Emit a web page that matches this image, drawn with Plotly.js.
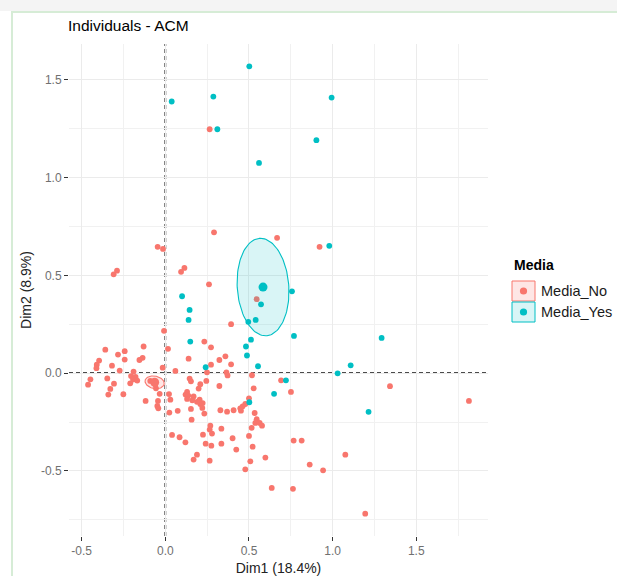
<!DOCTYPE html>
<html><head><meta charset="utf-8">
<script src="https://cdn.plot.ly/plotly-3.0.1.min.js"></script>
<style>
html,body{margin:0;padding:0;background:#fff;overflow:hidden;}
#topband{position:absolute;left:0;top:0;width:617px;height:11px;background:#f4f4f4;}
#frame{position:absolute;left:11px;top:11px;width:606px;height:565px;border-left:2px solid #d6ecd6;border-top:2px solid #d6ecd6;background:#fff;}
#chart{position:absolute;left:0;top:0;width:617px;height:576px;}
</style></head><body>
<div id="topband"></div>
<div id="frame"></div>
<div id="chart"></div>
<script>
// ---- data ----
const groupNames = ['Media_No', 'Media_Yes'];
const legendTitle = 'Media';

const mediaNoX = [0.265,0.291,0.668,-0.046,-0.014,0.922,-0.289,-0.309,0.114,0.094,0.261,0.546,0.393,-0.008,0.233,0.273,-0.130,-0.359,0.016,
 -0.283,-0.243,-0.243,-0.136,-0.155,-0.396,-0.410,-0.412,-0.319,-0.273,-0.190,-0.205,-0.178,-0.193,-0.168,-0.210,-0.448,-0.462,-0.347,-0.307,
 -0.329,-0.341,-0.251,-0.016,-0.056,-0.034,-0.118,-0.044,-0.048,-0.042,-0.090,-0.060,0.022,0.030,0.024,0.074,0.139,0.359,0.323,0.393,0.273,
 0.060,0.249,0.365,0.372,0.145,0.153,0.209,0.199,0.245,0.323,0.130,0.121,0.137,0.169,0.130,0.161,0.189,0.209,0.223,0.221,0.205,0.153,0.157,
 0.233,0.329,0.369,0.408,0.269,0.265,0.279,0.335,0.040,0.085,0.120,0.225,0.241,0.275,0.335,0.402,0.189,0.169,0.265,0.518,0.692,0.751,0.528,
 0.500,0.478,0.462,0.448,0.452,0.534,0.546,0.538,0.564,0.578,0.516,0.500,0.522,0.424,0.767,0.815,0.598,0.508,0.478,0.863,1.343,1.815,1.076,
 0.943,0.636,0.763,1.195];
const mediaNoY = [1.247,0.720,0.692,0.646,0.635,0.646,0.524,0.505,0.538,0.518,0.454,0.378,0.250,0.216,0.161,0.132,0.136,0.120,0.124,
 0.095,0.112,0.069,0.078,0.067,0.064,0.043,0.025,0.038,0.013,0.008,-0.015,-0.020,-0.033,-0.038,-0.052,-0.032,-0.059,-0.027,-0.054,
 -0.081,-0.110,-0.108,0.028,-0.078,-0.106,-0.142,-0.142,-0.168,-0.180,-0.040,-0.058,-0.107,-0.136,-0.202,-0.193,0.074,0.086,0.067,0.045,0.043,
 0.011,0.004,0.004,-0.012,-0.028,-0.042,-0.057,-0.079,-0.040,-0.066,-0.096,-0.110,-0.115,-0.119,-0.132,-0.139,-0.147,-0.158,-0.153,-0.178,-0.136,-0.183,-0.238,
 -0.207,-0.190,-0.197,-0.190,-0.269,-0.289,-0.309,-0.284,-0.316,-0.328,-0.354,-0.315,-0.361,-0.371,-0.361,-0.333,-0.417,-0.442,-0.448,-0.011,-0.037,-0.096,-0.078,
 -0.129,-0.158,-0.170,-0.180,-0.192,-0.204,-0.236,-0.255,-0.255,-0.269,-0.280,-0.321,-0.376,-0.391,-0.345,-0.345,-0.432,-0.451,-0.492,-0.468,-0.067,-0.142,-0.417,
 -0.497,-0.587,-0.592,-0.719];

const mediaYesX = [0.502,0.038,0.287,0.994,0.311,0.903,0.560,0.980,0.757,0.100,0.145,0.139,0.572,0.540,0.496,0.769,1.293,0.512,0.149,
 0.482,0.488,0.554,0.241,1.108,1.030,0.721,0.650,0.502,1.215];
const mediaYesY = [1.569,1.389,1.414,1.409,1.247,1.191,1.075,0.651,0.418,0.393,0.323,0.272,0.352,0.272,0.262,0.190,0.180,0.171,0.161,
 0.136,0.090,0.035,0.030,0.040,-0.001,-0.037,-0.106,-0.149,-0.198];

// group means and confidence ellipses (No, Yes)
const meanX = [-0.064, 0.584];
const meanY = [-0.047, 0.440];
const ellSemiMajor = [0.058, 0.250];
const ellSemiMinor = [0.032, 0.154];
const ellAngle = [-0.14, 1.667];   // radians, direction of major axis

const tickVals = [-0.5, 0, 0.5, 1, 1.5];
const tickText = ['-0.5', '0.0', '0.5', '1.0', '1.5'];
const xTitle = 'Dim1 (18.4%)';
const yTitle = 'Dim2 (8.9%)';
const chartTitle = 'Individuals - ACM';

// ---- build ----
const W = 617, H = 576;
const M = {l: 69, r: 129, t: 44, b: 40};
const PW = W - M.l - M.r, PH = H - M.t - M.b;
const px2paperX = px => (px - M.l) / PW;
const py2paperY = py => (H - M.b - py) / PH;

const colors = ['#F8766D', '#00BFC4'];
const fills = ['rgba(248,118,109,0.18)', 'rgba(0,191,196,0.15)'];
const FONT = 'Liberation Sans, Arial, sans-serif';

function ellipse(i) {
  const xs = [], ys = [];
  const n = 120, c = Math.cos(ellAngle[i]), s = Math.sin(ellAngle[i]);
  for (let k = 0; k <= n; k++) {
    const t = 2 * Math.PI * k / n;
    const a = ellSemiMajor[i] * Math.cos(t), b = ellSemiMinor[i] * Math.sin(t);
    xs.push(meanX[i] + a * c - b * s);
    ys.push(meanY[i] + a * s + b * c);
  }
  return {xs, ys};
}

const traces = [];
const ptsX = [mediaNoX, mediaYesX], ptsY = [mediaNoY, mediaYesY];
for (let i = 0; i < 2; i++) {
  traces.push({
    x: ptsX[i], y: ptsY[i], type: 'scatter', mode: 'markers', name: groupNames[i],
    marker: {color: colors[i], size: 5.8, line: {width: 0}}, showlegend: false, hoverinfo: 'x+y'
  });
}
for (let i = 0; i < 2; i++) {
  const e = ellipse(i);
  traces.push({
    x: e.xs, y: e.ys, type: 'scatter', mode: 'lines', fill: 'toself', fillcolor: fills[i],
    line: {color: colors[i], width: 1.1}, showlegend: false, hoverinfo: 'skip'
  });
  traces.push({
    x: [meanX[i]], y: [meanY[i]], type: 'scatter', mode: 'markers',
    marker: {color: colors[i], size: 9}, showlegend: false, hoverinfo: 'skip'
  });
}

const axisCommon = {
  tickmode: 'array', tickvals: tickVals, ticktext: tickText,
  showgrid: true, gridcolor: '#ebebeb', gridwidth: 1,
  minor: {dtick: 0.25, tick0: 0, showgrid: true, gridcolor: '#f1f1f1', gridwidth: 1},
  zeroline: false, showline: false,
  ticks: 'outside', ticklen: 4, tickcolor: '#333', tickwidth: 1,
  tickfont: {family: FONT, size: 12, color: '#707070'}
};

// legend (ggplot-style keys: box + dot), placed in the right margin
const shapes = [
  {type: 'line', xref: 'x', yref: 'paper', x0: 0, x1: 0, y0: 0, y1: 1, layer: 'between',
   line: {color: '#111', width: 1.7, dash: '4px,3px'}},
  {type: 'line', xref: 'paper', yref: 'y', x0: 0, x1: 1, y0: 0, y1: 0, layer: 'between',
   line: {color: '#111', width: 1.7, dash: '4px,3px'}}
];
const annotations = [
  {text: '<b>' + legendTitle + '</b>', xref: 'paper', yref: 'paper', x: px2paperX(512), y: py2paperY(265),
   xanchor: 'left', yanchor: 'middle', showarrow: false, font: {family: FONT, size: 14, color: '#000'}}
];
const keyTop = [281, 302], keyH = 20, keyL = 512, keyR = 535, dotR = 3.6;
for (let i = 0; i < 2; i++) {
  const cy = keyTop[i] + keyH / 2, cx = (keyL + keyR) / 2;
  shapes.push({type: 'rect', xref: 'paper', yref: 'paper',
    x0: px2paperX(keyL), x1: px2paperX(keyR), y0: py2paperY(keyTop[i]), y1: py2paperY(keyTop[i] + keyH),
    line: {color: colors[i], width: 1}, fillcolor: fills[i]});
  shapes.push({type: 'circle', xref: 'paper', yref: 'paper',
    x0: px2paperX(cx - dotR), x1: px2paperX(cx + dotR), y0: py2paperY(cy - dotR), y1: py2paperY(cy + dotR),
    line: {width: 0}, fillcolor: colors[i]});
  annotations.push({text: groupNames[i], xref: 'paper', yref: 'paper', x: px2paperX(539), y: py2paperY(cy),
    xanchor: 'left', yanchor: 'middle', showarrow: false, font: {family: FONT, size: 14.5, color: '#1a1a1a'}});
}

const layout = {
  width: W, height: H,
  margin: M,
  paper_bgcolor: 'rgba(0,0,0,0)', plot_bgcolor: 'rgba(0,0,0,0)',
  font: {family: FONT},
  title: {text: chartTitle, x: 68 / W, xref: 'container', xanchor: 'left',
          y: 1 - 26 / H, yref: 'container', yanchor: 'middle',
          font: {size: 15.5, color: '#000'}},
  xaxis: Object.assign({}, axisCommon, {
    range: [-0.576, 1.929],
    title: {text: xTitle, font: {size: 14, color: '#222'}, standoff: 8}
  }),
  yaxis: Object.assign({}, axisCommon, {
    range: [-0.833, 1.683],
    title: {text: yTitle, font: {size: 14, color: '#222'}, standoff: 6}
  }),
  shapes: shapes,
  annotations: annotations,
  showlegend: false
};

Plotly.newPlot('chart', traces, layout, {displayModeBar: false, staticPlot: true});
</script></body></html>
